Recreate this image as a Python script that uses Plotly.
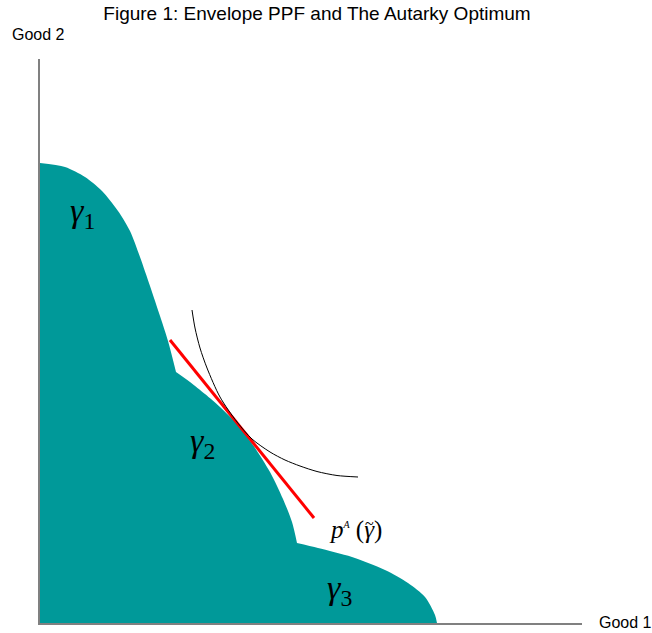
import plotly.graph_objects as go

# ---- data (units: Good 1 / Good 2, origin at axes corner) ----
gamma1_x = [0, 25, 45, 62, 78, 90, 100, 110, 120, 128, 136]
gamma1_y = [460, 456, 446, 432, 412, 392, 366, 337, 307, 282, 251]

gamma2_x = [136, 150, 165, 180, 197, 213, 230, 243, 252, 257]
gamma2_y = [251, 241, 229, 216, 199, 178, 151, 124, 101, 80]

gamma3_x = [257, 278, 312, 345, 368, 385, 395, 397]
gamma3_y = [80, 75, 66, 53, 40, 26, 8, 0]

price_x = [130, 274]
price_y = [283, 105]

indiff_x = [152, 155, 160, 167, 180, 197, 212, 230, 245, 260, 277, 297, 318]
indiff_y = [313, 295, 275, 255, 226, 201, 184, 171, 163, 157, 151.5, 147.5, 146]

x_max = 542
y_max = 564

region_names = ["γ", "γ", "γ"]
region_subs = ["1", "2", "3"]
region_label_x = [42, 162, 299]
region_label_y = [410, 180, 33]

TEAL = "#009999"

fig = go.Figure()
for xs, ys in [(gamma1_x, gamma1_y), (gamma2_x, gamma2_y), (gamma3_x, gamma3_y)]:
    fig.add_trace(go.Scatter(
        x=xs, y=ys, mode="lines", line=dict(color=TEAL, width=0, shape="spline", smoothing=0.8),
        fill="tozeroy", fillcolor=TEAL, hoverinfo="skip", showlegend=False))

fig.add_trace(go.Scatter(x=price_x, y=price_y, mode="lines",
                         line=dict(color="#FF0000", width=3), showlegend=False))
fig.add_trace(go.Scatter(x=indiff_x, y=indiff_y, mode="lines",
                         line=dict(color="black", width=1, shape="spline", smoothing=0.8),
                         showlegend=False))

for n, s, x, y in zip(region_names, region_subs, region_label_x, region_label_y):
    fig.add_annotation(x=x, y=y, xref="x", yref="y",
                       text="<i>" + n + "</i><sub>" + s + "</sub>",
                       showarrow=False, font=dict(family="Liberation Serif", size=34, color="black"))

fig.add_annotation(x=315, y=93, xref="x", yref="y",
                   text="<i>p</i><sup><i><span style=\"font-size:10px\">A</span></i></sup> (<i>γ</i>)",
                   showarrow=False, font=dict(family="Liberation Serif", size=25, color="black"))
fig.add_annotation(x=329, y=100, xref="x", yref="y", text="~", showarrow=False,
                   font=dict(family="Liberation Serif", size=16, color="black"))

fig.add_annotation(x=-30 / 542, y=1 + 24 / 564, xref="paper", yref="paper", text="Good 2",
                   showarrow=False, xanchor="left", yanchor="middle",
                   font=dict(family="Liberation Sans", size=16, color="black"))
fig.add_annotation(x=1 + 15 / 542, y=1 / 564, xref="paper", yref="paper", text="Good 1",
                   showarrow=False, xanchor="left", yanchor="middle",
                   font=dict(family="Liberation Sans", size=16, color="black"))

fig.update_layout(
    width=652, height=633,
    margin=dict(l=40, r=70, t=59, b=10),
    paper_bgcolor="white", plot_bgcolor="white",
    title=dict(text="Figure 1: Envelope PPF and The Autarky Optimum",
               x=317 / 652, xanchor="center", xref="container", y=1 - 13 / 633, yanchor="middle",
               font=dict(family="Liberation Sans", size=19, color="black")),
    xaxis=dict(range=[0, x_max], showgrid=False, zeroline=False, showticklabels=False,
               ticks="", showline=True, linecolor="#808080", linewidth=1.5, fixedrange=True),
    yaxis=dict(range=[0, y_max], showgrid=False, zeroline=False, showticklabels=False,
               ticks="", showline=True, linecolor="#808080", linewidth=1.5, fixedrange=True),
)

fig.write_html("out.html", config={"displayModeBar": False},
               post_script="document.body.style.margin='0px';")
